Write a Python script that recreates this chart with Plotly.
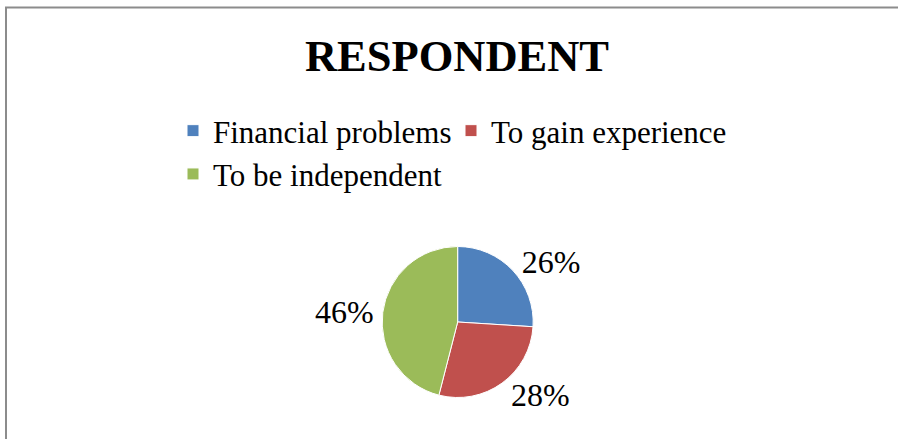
import plotly.graph_objects as go

categories = ["Financial problems", "To gain experience", "To be independent"]
values = [26, 28, 46]
colors = ["#4F81BD", "#C0504D", "#9BBB59"]
title_text = "RESPONDENT"

W, H = 898, 439
ML, MR = 150, 150
GW = W - ML - MR

fig = go.Figure(go.Pie(
    labels=categories,
    values=values,
    sort=False,
    direction="clockwise",
    rotation=0,
    marker=dict(colors=colors, line=dict(color="white", width=1)),
    textinfo="percent",
    textposition="outside",
    outsidetextfont=dict(family="Liberation Serif", size=32, color="black"),
    domain=dict(x=[0.2, 0.829], y=[0.0945, 0.4385]),
    hoverinfo="label+percent",
))

fig.update_layout(
    width=W, height=H,
    margin=dict(l=ML, r=MR, t=0, b=0, autoexpand=False),
    paper_bgcolor="white",
    plot_bgcolor="white",
    font=dict(family="Liberation Serif", color="black"),
    title=dict(
        text="<b>" + title_text + "</b>",
        font=dict(family="Liberation Serif", size=44.5, color="black"),
        xref="container", x=457 / W, xanchor="center",
        yref="container", y=0.9084, yanchor="top",
    ),
    showlegend=True,
    legend=dict(
        orientation="h",
        xref="paper", x=(173 - ML) / GW, xanchor="left",
        yref="paper", y=1 - 104 / H, yanchor="top",
        entrywidth=233, entrywidthmode="pixels",
        font=dict(family="Liberation Serif", size=31, color="black"),
        bgcolor="rgba(0,0,0,0)",
    ),
    shapes=[dict(
        type="rect", xref="paper", yref="paper",
        x0=(6 - ML) / GW, x1=(W + 10 - ML) / GW,
        y0=-0.1, y1=1 - 7.5 / H,
        line=dict(color="#8c8c8c", width=2),
        fillcolor="rgba(0,0,0,0)",
    )],
)

fig.write_html(
    "out.html",
    config={"displayModeBar": False},
    post_script="document.body.style.margin='0';document.body.style.overflow='hidden';",
)
